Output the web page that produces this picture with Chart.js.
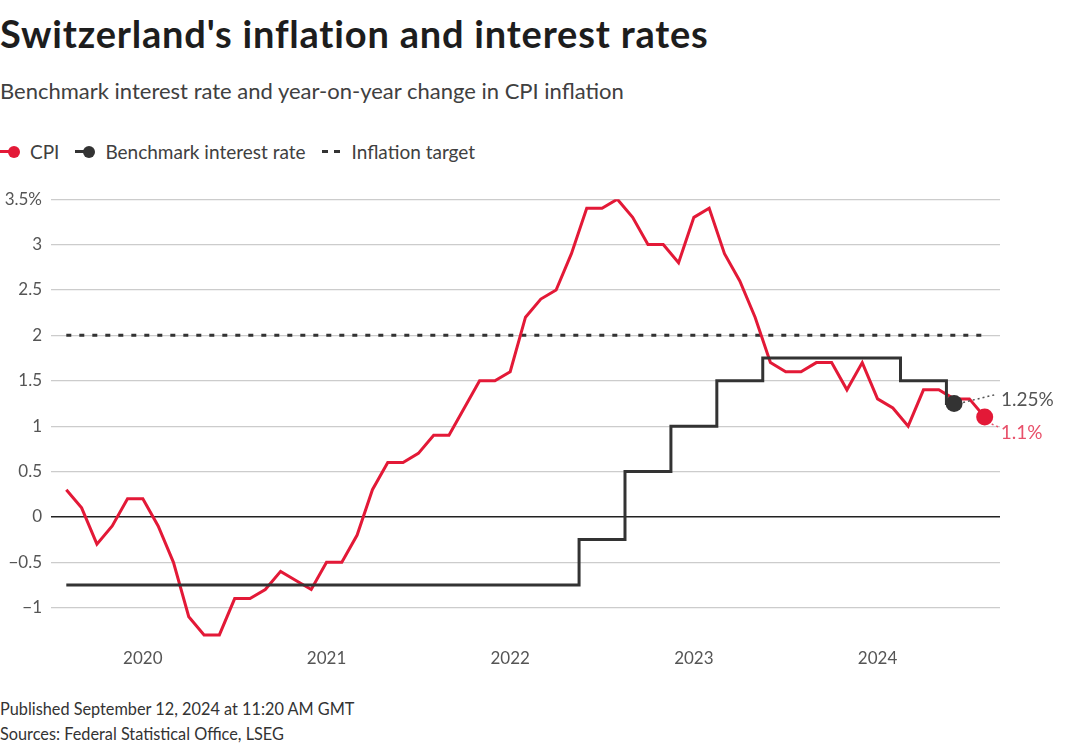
<!DOCTYPE html>
<html>
<head>
<meta charset="utf-8">
<script src="https://cdn.jsdelivr.net/npm/chart.js@4.4.1/dist/chart.umd.min.js"></script>
<style>
  html, body { margin: 0; padding: 0; background: #fff; width: 1068px; height: 752px; overflow: hidden; font-family: Lato, "Noto Sans", sans-serif; }
  #title { position: absolute; left: 0; top: 11px; font-size: 38px; line-height: 1.2; font-weight: 700; color: #1d1d1d; white-space: nowrap; letter-spacing: 0.8px; }
  #subtitle { position: absolute; left: 0; top: 78px; font-size: 22px; line-height: 1.2; color: #404040; white-space: nowrap; }
  #legend { position: absolute; left: 0; top: 140px; font-size: 19px; color: #404040; white-space: nowrap; display: flex; align-items: center; }
  .item { display: flex; align-items: center; margin-right: 16px; }
  .sym { position: relative; width: 22px; height: 20px; margin-right: 8px; }
  .sym .ln { position: absolute; left: 0; top: 8.5px; width: 14px; height: 3px; }
  .sym .dt { position: absolute; left: 8px; top: 4px; width: 12px; height: 12px; border-radius: 50%; }
  #foot1 { position: absolute; left: 0; top: 699px; font-size: 16.3px; color: #333; white-space: nowrap; }
  #foot2 { position: absolute; left: 0; top: 724px; font-size: 16.3px; color: #333; white-space: nowrap; }
  #wrap { position: absolute; left: 0; top: 180px; width: 1068px; height: 500px; }
</style>
</head>
<body>
<div id="title">Switzerland's inflation and interest rates</div>
<div id="subtitle">Benchmark interest rate and year-on-year change in CPI inflation</div>
<div id="legend">
  <div class="item"><div class="sym"><div class="ln" style="background:#e31937"></div><div class="dt" style="background:#e31937"></div></div>CPI</div>
  <div class="item"><div class="sym"><div class="ln" style="background:#333"></div><div class="dt" style="background:#333"></div></div>Benchmark interest rate</div>
  <div class="item"><div class="sym" style="width:22px"><div class="ln" style="width:6px;background:#333"></div><div class="ln" style="left:12px;width:6px;background:#333"></div></div>Inflation target</div>
</div>
<div id="wrap"><canvas id="c"></canvas></div>
<div id="foot1">Published September 12, 2024 at 11:20 AM GMT</div>
<div id="foot2">Sources: Federal Statistical Office, LSEG</div>
<script>
// ---- Data ----
const cpiStart = "2019-08";
const cpiValues = [
  0.3, 0.1, -0.3, -0.1, 0.2,                                  // 2019 Aug-Dec
  0.2, -0.1, -0.5, -1.1, -1.3, -1.3, -0.9, -0.9, -0.8, -0.6, -0.7, -0.8, // 2020
  -0.5, -0.5, -0.2, 0.3, 0.6, 0.6, 0.7, 0.9, 0.9, 1.2, 1.5, 1.5,        // 2021
  1.6, 2.2, 2.4, 2.5, 2.9, 3.4, 3.4, 3.5, 3.3, 3.0, 3.0, 2.8,           // 2022
  3.3, 3.4, 2.9, 2.6, 2.2, 1.7, 1.6, 1.6, 1.7, 1.7, 1.4, 1.7,           // 2023
  1.3, 1.2, 1.0, 1.4, 1.4, 1.3, 1.3, 1.1                                // 2024 Jan-Aug
];
const rateStart = "2019-08";
const rateValues = [
  -0.75, -0.75, -0.75, -0.75, -0.75,                                     // 2019 Aug-Dec
  -0.75, -0.75, -0.75, -0.75, -0.75, -0.75, -0.75, -0.75, -0.75, -0.75, -0.75, -0.75, // 2020
  -0.75, -0.75, -0.75, -0.75, -0.75, -0.75, -0.75, -0.75, -0.75, -0.75, -0.75, -0.75, // 2021
  -0.75, -0.75, -0.75, -0.75, -0.75, -0.25, -0.25, -0.25, 0.5, 0.5, 0.5, 1.0,         // 2022
  1.0, 1.0, 1.5, 1.5, 1.5, 1.75, 1.75, 1.75, 1.75, 1.75, 1.75, 1.75,                 // 2023
  1.75, 1.75, 1.5, 1.5, 1.5, 1.25                                                    // 2024 Jan-Jun
];
const targetMonths = ["2019-08", "2024-08"];
const targetValues = [2, 2];
const yearLabels = ["2020", "2021", "2022", "2023", "2024"];
const yTicks = [-1, -0.5, 0, 0.5, 1, 1.5, 2, 2.5, 3, 3.5];
const cpiLabel = "1.1%";
const rateLabel = "1.25%";

// month string -> month index relative to Jan 2020
function mIdx(s) { const [y, m] = s.split("-").map(Number); return (y - 2020) * 12 + (m - 1); }
function series(start, vals) { const s = mIdx(start); return vals.map((v, i) => ({ x: s + i, y: v })); }
const yearIdx = yearLabels.map(y => mIdx(y + "-01"));

const RED = "#e31937", BLACK = "#333333";

const endLabels = {
  id: "endLabels",
  afterDatasetsDraw(chart) {
    const ctx = chart.ctx;
    ctx.save();
    // rate label
    const rm = chart.getDatasetMeta(0).data;
    const rp = rm[rm.length - 1];
    ctx.setLineDash([2, 3]);
    ctx.lineWidth = 1.5;
    ctx.strokeStyle = "#555";
    ctx.beginPath(); ctx.moveTo(rp.x + 9, rp.y - 1); ctx.lineTo(rp.x + 42, rp.y - 9); ctx.stroke();
    ctx.setLineDash([]);
    ctx.font = "19px Lato, 'Noto Sans', sans-serif";
    ctx.fillStyle = "#555";
    ctx.textBaseline = "middle";
    ctx.fillText(rateLabel, rp.x + 47, rp.y - 4);
    // cpi label
    const cm = chart.getDatasetMeta(1).data;
    const cp = cm[cm.length - 1];
    ctx.setLineDash([2, 3]);
    ctx.strokeStyle = "#e8506a";
    ctx.beginPath(); ctx.moveTo(cp.x + 7, cp.y + 7); ctx.lineTo(cp.x + 14, cp.y + 10); ctx.stroke();
    ctx.setLineDash([]);
    ctx.fillStyle = "#e8506a";
    ctx.fillText(cpiLabel, cp.x + 16, cp.y + 16);
    ctx.restore();
  }
};

new Chart(document.getElementById("c"), {
  type: "line",
  data: {
    datasets: [
      {
        label: "Benchmark interest rate",
        data: series(rateStart, rateValues),
        borderColor: BLACK, backgroundColor: BLACK, borderWidth: 3,
        stepped: "middle",
        pointRadius: ctx => ctx.dataIndex === rateValues.length - 1 ? 8.5 : 0,
        pointHoverRadius: 0, pointBorderWidth: 0,
        order: 0
      },
      {
        label: "CPI",
        data: series(cpiStart, cpiValues),
        borderColor: RED, backgroundColor: RED, borderWidth: 3,
        tension: 0, borderJoinStyle: "miter",
        pointRadius: ctx => ctx.dataIndex === cpiValues.length - 1 ? 8.5 : 0,
        pointHoverRadius: 0, pointBorderWidth: 0,
        order: 1
      },
      {
        label: "Inflation target",
        data: targetMonths.map((m, i) => ({ x: mIdx(m), y: targetValues[i] })),
        borderColor: BLACK, borderWidth: 3, borderDash: [5, 8],
        pointRadius: 0, pointHoverRadius: 0,
        order: 2
      }
    ]
  },
  options: {
    responsive: true, maintainAspectRatio: false, animation: false,
    layout: { padding: { top: 16, right: 68, left: 0, bottom: 0 } },
    plugins: { legend: { display: false }, tooltip: { enabled: false } },
    elements: { line: { borderCapStyle: "butt" } },
    scales: {
      x: {
        type: "linear", min: -6, max: 56,
        border: { display: false },
        grid: { display: false, drawTicks: false },
        afterBuildTicks: s => { s.ticks = yearIdx.map(v => ({ value: v })); },
        afterFit: s => { s.height = 40; },
        ticks: {
          autoSkip: false, maxRotation: 0, padding: 8,
          color: "#555", font: { size: 17, family: "Lato, 'Noto Sans', sans-serif" },
          callback: (v) => yearLabels[yearIdx.indexOf(v)]
        }
      },
      y: {
        min: -1.356, max: 3.5,
        border: { display: false },
        grid: {
          drawTicks: false,
          color: c => c.tick && c.tick.value === 0 ? "#222" : "#cccccc",
          lineWidth: c => c.tick && c.tick.value === 0 ? 1.5 : 1.2
        },
        afterBuildTicks: s => { s.ticks = yTicks.map(v => ({ value: v })); },
        afterFit: s => { s.width = 51; },
        ticks: {
          padding: 9, color: "#555",
          font: { size: 17, family: "Lato, 'Noto Sans', sans-serif" },
          callback: v => {
            const t = (v < 0 ? "\u2212" + Math.abs(v) : String(v));
            return v === 3.5 ? t + "%" : t;
          }
        }
      }
    }
  },
  plugins: [endLabels]
});
</script>
</body>
</html>
